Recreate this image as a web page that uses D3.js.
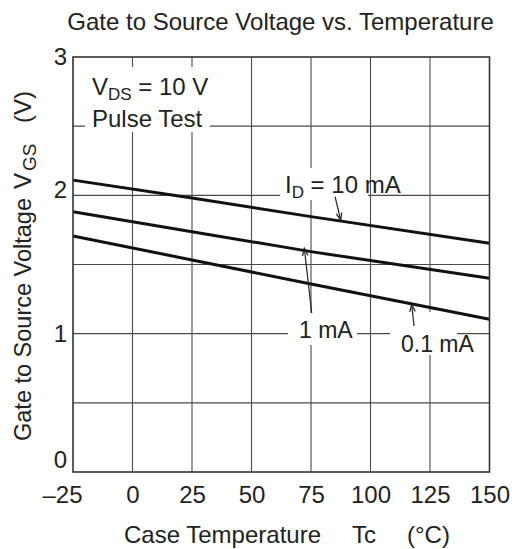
<!DOCTYPE html>
<html>
<head>
<meta charset="utf-8">
<script src="https://cdn.jsdelivr.net/npm/d3@7"></script>
<style>
  body { margin: 0; background: #fff; }
  svg { display: block; font-family: "Liberation Sans", Arial, Helvetica, sans-serif; }
  text { fill: #222; }
</style>
</head>
<body>
<div id="chart"></div>
<script>
// readings
var temps = [-25, 25, 75, 150];
var vgs10mA = [2.11, 1.98, 1.846, 1.653];
var vgs1mA = [1.882, 1.737, 1.593, 1.40];
var vgs01mA = [1.706, 1.533, 1.359, 1.104];

var xTicks = [-25, 0, 25, 50, 75, 100, 125, 150];
var yTicks = [0, 1, 2, 3];
var yGrid = [0.5, 1, 1.5, 2, 2.5];

// arrows: [tailT, tailV, tipT, tipV]
var arrows = [
  [85.1, 1.99, 87.5, 1.818],
  [75.3, 1.149, 72.2, 1.617],
  [118.3, 1.055, 117.3, 1.213]
];

var width = 512,
    height = 549;

var margin = {top: 57, right: 22.5, bottom: 77, left: 73};

var x = d3.scaleLinear()
    .domain([-25, 150])
    .range([margin.left, width - margin.right]);

var y = d3.scaleLinear()
    .domain([0, 3])
    .range([height - margin.bottom, margin.top]);

var svg = d3.select("#chart")
    .append("svg")
        .attr("width", width)
        .attr("height", height);

// grid
svg.append("g")
    .selectAll("line")
    .data(xTicks.slice(1, -1))
    .enter()
    .append("line")
        .attr("x1", d => x(d))
        .attr("x2", d => x(d))
        .attr("y1", y(0))
        .attr("y2", y(3))
        .attr("stroke", "#4a4a4a")
        .attr("stroke-width", 1.1);

svg.append("g")
    .selectAll("line")
    .data(yGrid)
    .enter()
    .append("line")
        .attr("x1", x(-25))
        .attr("x2", x(150))
        .attr("y1", d => y(d))
        .attr("y2", d => y(d))
        .attr("stroke", "#4a4a4a")
        .attr("stroke-width", 1.1);

// white boxes behind the labels (they break the grid)
var boxes = [
  [85, 67, 125, 65],
  [280, 168, 88, 32],
  [288, 313, 69, 32],
  [390, 312, 67, 43]
];
svg.append("g")
    .selectAll("rect")
    .data(boxes)
    .enter()
    .append("rect")
        .attr("x", d => d[0])
        .attr("y", d => d[1])
        .attr("width", d => d[2])
        .attr("height", d => d[3])
        .attr("fill", "#fff");

// curves
var line = d3.line()
    .x(d => x(d[0]))
    .y(d => y(d[1]));

[vgs10mA, vgs1mA, vgs01mA].forEach(function(s) {
    svg.append("path")
        .datum(temps.map((t, i) => [t, s[i]]))
        .attr("d", line)
        .attr("fill", "none")
        .attr("stroke", "#111")
        .attr("stroke-width", 3);
});

// frame
svg.append("rect")
    .attr("x", x(-25))
    .attr("y", y(3))
    .attr("width", x(150) - x(-25))
    .attr("height", y(0) - y(3))
    .attr("fill", "none")
    .attr("stroke", "#333")
    .attr("stroke-width", 1.6);

// axes (labels only)
var xAxis = svg.append("g")
    .attr("transform", "translate(0," + y(0) + ")")
    .call(d3.axisBottom(x)
        .tickValues(xTicks)
        .tickSize(0)
        .tickPadding(14)
        .tickFormat(d => d < 0 ? "\u2013" + Math.abs(d) : d));

var yAxis = svg.append("g")
    .attr("transform", "translate(" + x(-25) + ",0)")
    .call(d3.axisLeft(y)
        .tickValues(yTicks)
        .tickSize(0)
        .tickPadding(6)
        .tickFormat(d3.format("d")));

[xAxis, yAxis].forEach(function(a) {
    a.select(".domain").remove();
    a.selectAll("text")
        .attr("font-size", 24)
        .attr("font-family", null)
        .attr("fill", "#222");
    a.attr("font-family", null).attr("font-size", null);
});

// hand nudges as in the original sheet
xAxis.selectAll("text").filter(d => d < 0).attr("dx", -11);
yAxis.selectAll("text").filter(d => d === 0).attr("dy", "-0.2em");
yAxis.selectAll("text").filter(d => d === 2).attr("dy", "0.1em");

// arrows
var arrowG = svg.append("g")
    .attr("stroke", "#222")
    .attr("stroke-width", 1.2)
    .attr("fill", "none");

arrows.forEach(function(a) {
    var x0 = x(a[0]), y0 = y(a[1]), x1 = x(a[2]), y1 = y(a[3]);
    var ang = Math.atan2(y1 - y0, x1 - x0);
    var len = 8, spread = 0.35;
    arrowG.append("line")
        .attr("x1", x0).attr("y1", y0)
        .attr("x2", x1).attr("y2", y1);
    arrowG.append("path")
        .attr("d", "M" + (x1 - len * Math.cos(ang - spread)) + "," + (y1 - len * Math.sin(ang - spread)) +
            "L" + x1 + "," + y1 +
            "L" + (x1 - len * Math.cos(ang + spread)) + "," + (y1 - len * Math.sin(ang + spread)));
});

// title
svg.append("text")
    .attr("x", 280.5)
    .attr("y", 30)
    .attr("text-anchor", "middle")
    .attr("font-size", 24)
    .text("Gate to Source Voltage vs. Temperature");

// x label
var xl = svg.append("text")
    .attr("y", 543)
    .attr("font-size", 24);
xl.append("tspan").attr("x", 124).text("Case Temperature");
xl.append("tspan").attr("x", 352).text("Tc");
xl.append("tspan").attr("x", 407).text("(\u00B0C)");

// y label
var yl = svg.append("text")
    .attr("transform", "translate(31,441) rotate(-90)")
    .attr("font-size", 23.5);
yl.append("tspan").attr("x", 0).text("Gate to Source Voltage");
yl.append("tspan").attr("x", 252).attr("font-size", 24).text("V");
yl.append("tspan").attr("font-size", 19).attr("dx", 2).attr("dy", 5).text("GS");
yl.append("tspan").attr("x", 318).attr("dy", -5).attr("font-size", 24).text("(V)");

// conditions
var c1 = svg.append("text")
    .attr("x", 92)
    .attr("y", 95)
    .attr("font-size", 24);
c1.append("tspan").text("V");
c1.append("tspan").attr("font-size", 17).attr("dy", 5).text("DS");
c1.append("tspan").attr("dy", -5).text(" = 10 V");

svg.append("text")
    .attr("x", 92)
    .attr("y", 127)
    .attr("font-size", 24)
    .text("Pulse Test");

// curve labels
var l1 = svg.append("text")
    .attr("x", 285)
    .attr("y", 193)
    .attr("font-size", 24);
l1.append("tspan").text("I");
l1.append("tspan").attr("font-size", 17).attr("dy", 5).text("D");
l1.append("tspan").attr("dy", -5).text(" = 10 mA");

svg.append("text")
    .attr("x", 299)
    .attr("y", 338)
    .attr("font-size", 23)
    .text("1 mA");

svg.append("text")
    .attr("x", 401)
    .attr("y", 352)
    .attr("font-size", 23)
    .text("0.1 mA");
</script>
</body>
</html>
